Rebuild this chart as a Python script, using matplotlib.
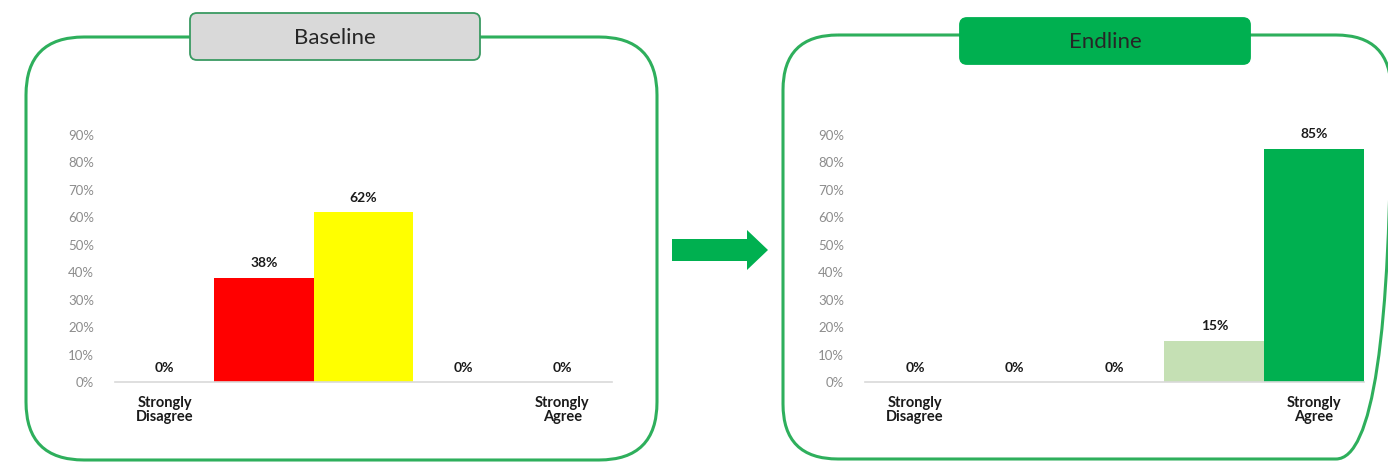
import matplotlib
matplotlib.use("Agg")
import matplotlib.pyplot as plt
from matplotlib.patches import FancyBboxPatch, FancyArrow
from matplotlib.ticker import PercentFormatter

# Survey responses on a 5-point agreement scale
categories = ["Strongly\nDisagree", "", "", "", "Strongly\nAgree"]
baseline_values = [0.00, 0.38, 0.62, 0.00, 0.00]
endline_values = [0.00, 0.00, 0.00, 0.15, 0.85]
baseline_colors = ["#ff0000", "#ff0000", "#ffff00", "#c5e0b4", "#00b050"]
endline_colors = ["#ff0000", "#ffff00", "#ffff00", "#c5e0b4", "#00b050"]
y_ticks = [0.0, 0.1, 0.2, 0.3, 0.4, 0.5, 0.6, 0.7, 0.8, 0.9]

W, H = 1388, 463
FRAME_GREEN = "#2eaf5c"
FONT = ["Lato", "DejaVu Sans"]

fig = plt.figure(figsize=(W / 100, H / 100), dpi=100)
fig.patch.set_facecolor("white")

# Background layer in pixel coordinates for frames, title boxes and arrow
bg = fig.add_axes([0, 0, 1, 1])
bg.set_xlim(0, W)
bg.set_ylim(H, 0)
bg.axis("off")


def frame(x0, y0, x1, y1, r):
    bg.add_patch(FancyBboxPatch((x0, y0), x1 - x0, y1 - y0,
                                boxstyle=f"round,pad=0,rounding_size={r}",
                                fill=False, edgecolor=FRAME_GREEN, lw=2.2,
                                zorder=1))


def title_box(x0, y0, x1, y1, face, edge, text):
    bg.add_patch(FancyBboxPatch((x0, y0), x1 - x0, y1 - y0,
                                boxstyle="round,pad=0,rounding_size=7",
                                facecolor=face, edgecolor=edge, lw=1.3,
                                zorder=3))
    bg.text((x0 + x1) / 2, (y0 + y1) / 2 + 1, text, ha="center", va="center",
            fontsize=16, color="#262626", family=FONT, zorder=4)


frame(26, 37, 657, 460, 58)
frame(783, 35, 1391, 459, 55)
title_box(190, 13, 480, 60, "#d9d9d9", "#3a9a62", "Baseline")
title_box(960, 18, 1250, 64, "#00b050", "#00b050", "Endline")

bg.add_patch(FancyArrow(672, 250, 75, 0, width=22, head_width=40,
                        head_length=21, length_includes_head=False,
                        color="#00b050", lw=0, zorder=2))


def bar_panel(rect, values, colors):
    ax = fig.add_axes(rect)
    x = list(range(len(values)))
    bars = ax.bar(x, values, width=1.0, color=colors, zorder=2)
    ax.set_xlim(-0.5, len(values) - 0.5)
    ax.set_ylim(0, 0.9)
    ax.set_yticks(y_ticks)
    ax.yaxis.set_major_formatter(PercentFormatter(1.0, decimals=0))
    ax.set_xticks(x)
    ax.set_xticklabels(categories)
    ax.tick_params(axis="y", length=0, pad=15, labelsize=9.5,
                   labelcolor="#8c8c8c")
    ax.tick_params(axis="x", length=0, pad=10, labelsize=10.5,
                   labelcolor="#1a1a1a")
    for lab in ax.get_xticklabels() + ax.get_yticklabels():
        lab.set_family(FONT)
    for lab in ax.get_xticklabels():
        lab.set_fontweight("bold")
        lab.set_linespacing(1.05)
    for side in ("top", "left", "right"):
        ax.spines[side].set_visible(False)
    ax.spines["bottom"].set_color("#d9d9d9")
    ax.spines["bottom"].set_linewidth(1.2)
    ax.set_facecolor("none")
    for b, v in zip(bars, values):
        ax.annotate(f"{v:.0%}", (b.get_x() + b.get_width() / 2, v),
                    xytext=(0, 6), textcoords="offset points",
                    ha="center", va="bottom", fontsize=10, fontweight="bold",
                    color="#1a1a1a", family=FONT, clip_on=False)
    return ax


ax_y0 = 1 - 382 / H
ax_h = (382 - 135) / H
bar_panel([115 / W, ax_y0, 497 / W, ax_h], baseline_values, baseline_colors)
bar_panel([865 / W, ax_y0, 499 / W, ax_h], endline_values, endline_colors)

fig.savefig("out.png", dpi=100, facecolor="white")
